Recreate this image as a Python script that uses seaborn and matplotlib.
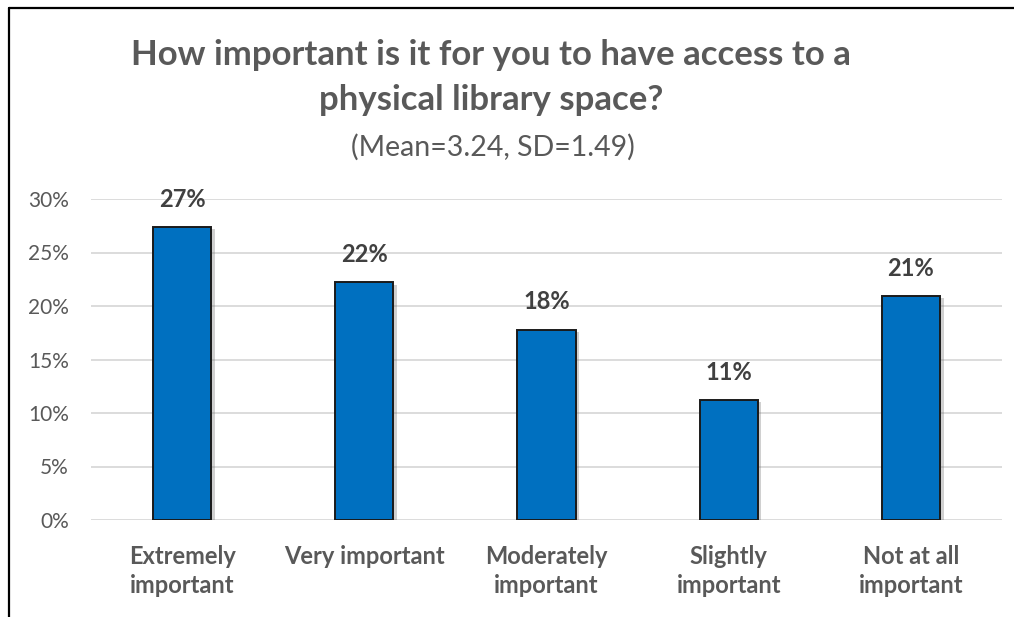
import matplotlib
matplotlib.use("Agg")
import matplotlib.pyplot as plt
import matplotlib.patheffects as pe
from matplotlib.lines import Line2D
from matplotlib.ticker import FuncFormatter
import seaborn as sns
import pandas as pd

categories = ["Extremely\nimportant", "Very important", "Moderately\nimportant",
              "Slightly\nimportant", "Not at all\nimportant"]
values = [0.274, 0.222, 0.178, 0.112, 0.209]
labels = ["27%", "22%", "18%", "11%", "21%"]
yticks = [0.0, 0.05, 0.10, 0.15, 0.20, 0.25, 0.30]

sns.set_theme(style="white")
plt.rcParams["font.family"] = ["Lato", "DejaVu Sans"]

df = pd.DataFrame({"category": categories, "value": values})

fig = plt.figure(figsize=(10.14, 6.17), dpi=100)
ax = fig.add_axes([91/1014, 1 - 520/617, (1002 - 91)/1014, (520 - 199)/617])

sns.barplot(data=df, x="category", y="value", color="#0070C0", width=0.32,
            edgecolor="#1a1a1a", linewidth=1.4, saturation=1, ax=ax, zorder=3)

for p in ax.patches:
    p.set_path_effects([pe.SimplePatchShadow(offset=(2.5, -1.5), shadow_rgbFace="#666666", alpha=0.3),
                        pe.Normal()])

ax.set_ylim(0, 0.30)
ax.set_yticks(yticks)
ax.yaxis.set_major_formatter(FuncFormatter(lambda v, _: f"{v*100:.0f}%"))
ax.grid(axis="y", color="#d9d9d9", linewidth=1.3, zorder=0)
ax.set_axisbelow(True)
for s in ax.spines.values():
    s.set_visible(False)
ax.set_xlabel("")
ax.set_ylabel("")
ax.tick_params(axis="y", labelsize=15, labelcolor="#595959", length=0, pad=16)
ax.tick_params(axis="x", labelsize=17, labelcolor="#595959", length=0, pad=18)
for t in ax.get_xticklabels():
    t.set_fontweight("bold")
    t.set_linespacing(1.3)
    t.set_verticalalignment("top")

for i, (v, lab) in enumerate(zip(values, labels)):
    ax.annotate(lab, (i, v), xytext=(0, 14.5), textcoords="offset points",
                ha="center", va="baseline", fontsize=17, fontweight="bold",
                color="#404040", annotation_clip=False)

fig.text(491/1014, 1 - 55/617, "How important is it for you to have access to a",
         ha="center", va="center", fontsize=25, fontweight="bold", color="#595959")
fig.text(491/1014, 1 - 100/617, "physical library space?",
         ha="center", va="center", fontsize=25, fontweight="bold", color="#595959")
fig.text(493/1014, 1 - 147/617, "(Mean=3.24, SD=1.49)",
         ha="center", va="center", fontsize=20.5, color="#595959")

fig.add_artist(Line2D([9/1014, 9/1014], [0, 1 - 8/617], transform=fig.transFigure,
                      color="black", linewidth=1.6))
fig.add_artist(Line2D([9/1014, 1], [1 - 8/617, 1 - 8/617], transform=fig.transFigure,
                      color="black", linewidth=1.6))

fig.savefig("out.png", dpi=100)
